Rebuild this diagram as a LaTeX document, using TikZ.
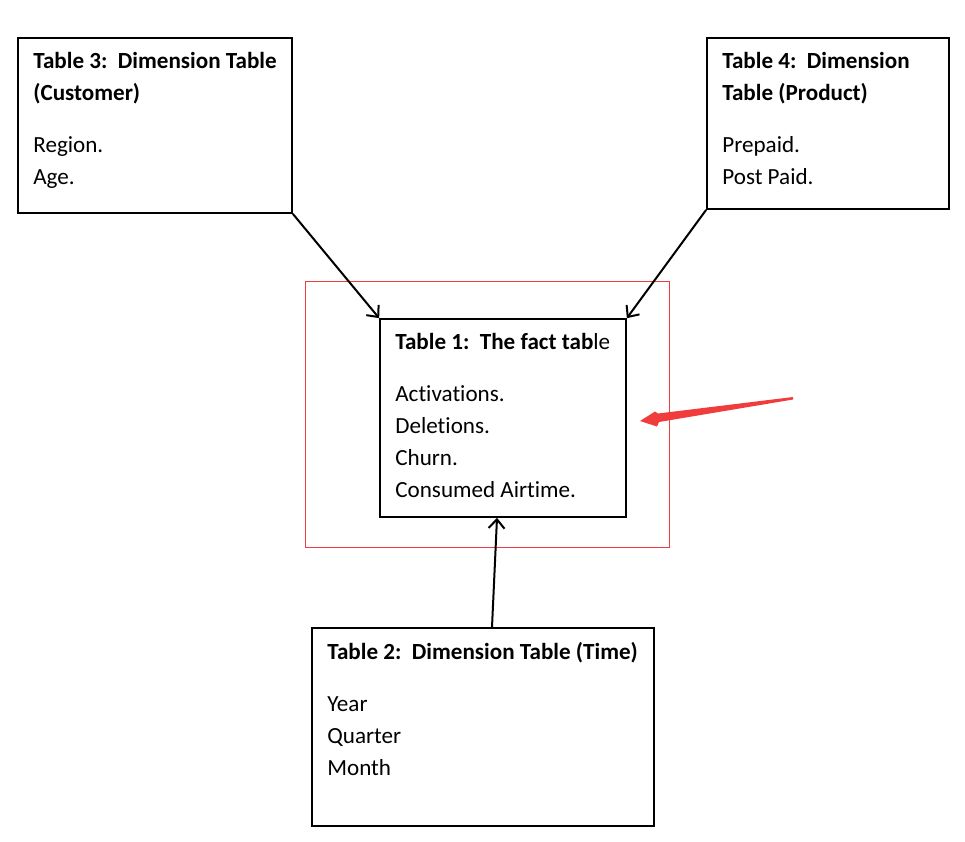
\documentclass[tikz,border=0pt]{standalone}
\usepackage{fontspec}
\setmainfont{Carlito}[Ligatures=CommonOff]
\usetikzlibrary{positioning, arrows.meta}
\definecolor{markred}{RGB}{240,60,60}
\tikzset{tbox/.style={draw, line width=1.7pt, inner sep=0pt}}
\tikzset{tlabel/.style={inner sep=0pt, align=left, font=\fontsize{23.1}{32}\selectfont}}
\tikzset{arr/.style={draw, line width=2pt, -{Straight Barb[length=9pt, width=16pt, line width=2pt]}}}

\begin{document}
\begin{tikzpicture}[x=1pt, y=-1pt]
\useasboundingbox (0,0) rectangle (965,841);
% frame round the fact table
\node[draw=markred, line width=0.9pt, minimum width=364pt, minimum height=266pt] (frame) at (487,414) {};
% tables
\node[tbox, minimum width=246pt, minimum height=198pt] (fact) at (503,418) {};
\node[tbox, minimum width=274pt, minimum height=175pt] (cust) at (155,125.5) {};
\node[tbox, minimum width=242pt, minimum height=171pt] (prod) at (828,123.5) {};
\node[tbox, minimum width=342pt, minimum height=198pt] (time) at (483,727) {};
%
\node[tlabel, below right=14.5pt and 16pt of fact.north west] (factlbl)
	{\textbf{Table 1:\ \ The fact tab}le\\[20pt] Activations.\\ Deletions.\\ Churn.\\ Consumed Airtime.};
\node[tlabel, below right=14.5pt and 16pt of cust.north west] (custlbl)
	{\textbf{Table 3:\ \ Dimension Table}\\ \textbf{(Customer)}\\[20pt] Region.\\ Age.};
\node[tlabel, below right=14.5pt and 16pt of prod.north west] (prodlbl)
	{\textbf{Table 4:\ \ Dimension}\\ \textbf{Table (Product)}\\[20pt] Prepaid.\\ Post Paid.};
\node[tlabel, below right=14.5pt and 16pt of time.north west] (timelbl)
	{\textbf{Table 2:\ \ Dimension Table (Time)}\\[20pt] Year\\ Quarter\\ Month};
%
\draw[arr] (cust.south east) -- (fact.north west);
\draw[arr] (prod.south west) -- (fact.north east);
\draw[arr] ([xshift=9pt]time.north) -- ([xshift=-6pt]fact.south);
% red pointer
\fill[markred] (640,421) -- (655,411.5) -- (658,413.5) -- (793,397) -- (793,399.5)
	-- (659,422) -- (657,426.5) -- cycle;
\end{tikzpicture}
\end{document}
